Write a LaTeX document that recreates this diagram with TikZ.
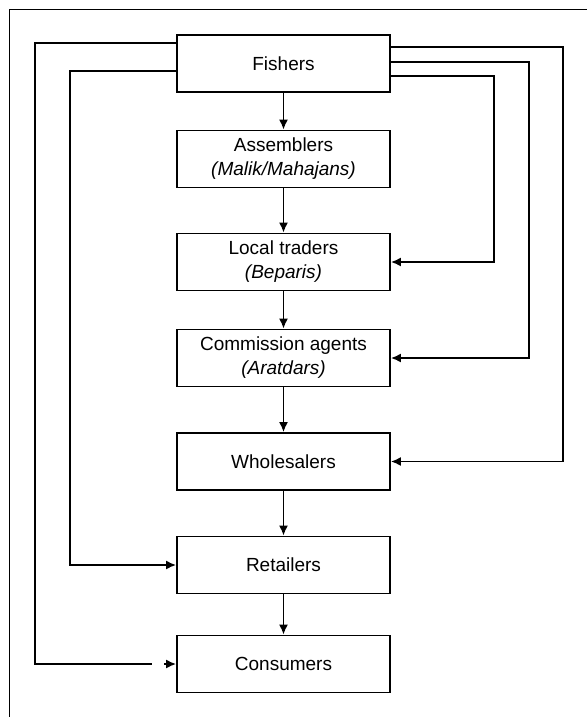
\documentclass[tikz,border=0pt]{standalone}
\usepackage{fontspec}
\setmainfont{Liberation Sans}
\usetikzlibrary{arrows.meta}
\begin{document}
\begin{tikzpicture}[x=1pt,y=-1pt,
  box/.style={draw, line width=1.8pt, minimum width=213pt, minimum height=57pt, inner sep=0pt, align=center,
    font=\fontsize{19pt}{24pt}\selectfont},
  line/.style={line width=1.7pt},
  arr/.style={line width=1.7pt, -{Latex[length=10pt,width=9pt]}},
  frame/.style={line width=1.5pt}]
\useasboundingbox (0,0) rectangle (587,717);
\draw[frame] (9.5,717) -- (9.5,9.5) -- (587,9.5);
\node[box] (fish)  at (283.5,63.5) {Fishers};
\node[box] (asm)   at (283.5,159)   {Assemblers\\\textit{(Malik/Mahajans)}};
\node[box] (loc)   at (283.5,262)   {Local traders\\\textit{(Beparis)}};
\node[box] (comm)  at (283.5,358)   {Commission agents\\\textit{(Aratdars)}};
\node[box] (whole) at (283.5,461.5) {Wholesalers};
\node[box] (ret)   at (283.5,565)   {Retailers};
\node[box] (cons)  at (283.5,664)   {Consumers};
% main chain
\draw[arr] (fish) -- (asm);
\draw[arr] (asm) -- (loc);
\draw[arr] (loc) -- (comm);
\draw[arr] (comm) -- (whole);
\draw[arr] (whole) -- (ret);
\draw[arr] (ret) -- (cons);
% left bypasses
\coordinate (gapA) at ([xshift=-24pt]cons.west);
\coordinate (gapB) at ([xshift=-12pt]cons.west);
\draw[line] ([yshift=-9pt]fish.north west) -- ++(-141,0) |- (gapA);
\draw[arr] (gapB) -- (cons.west);
\draw[arr] ([yshift=-37pt]fish.north west) -- ++(-106,0) |- (ret.west);
% right bypasses
\draw[arr] ([yshift=-13pt]fish.north east) -- ++(172,0) |- (whole.east);
\draw[arr] ([yshift=-28pt]fish.north east) -- ++(138,0) |- (comm.east);
\draw[arr] ([yshift=-42pt]fish.north east) -- ++(103,0) |- (loc.east);
\end{tikzpicture}
\end{document}
